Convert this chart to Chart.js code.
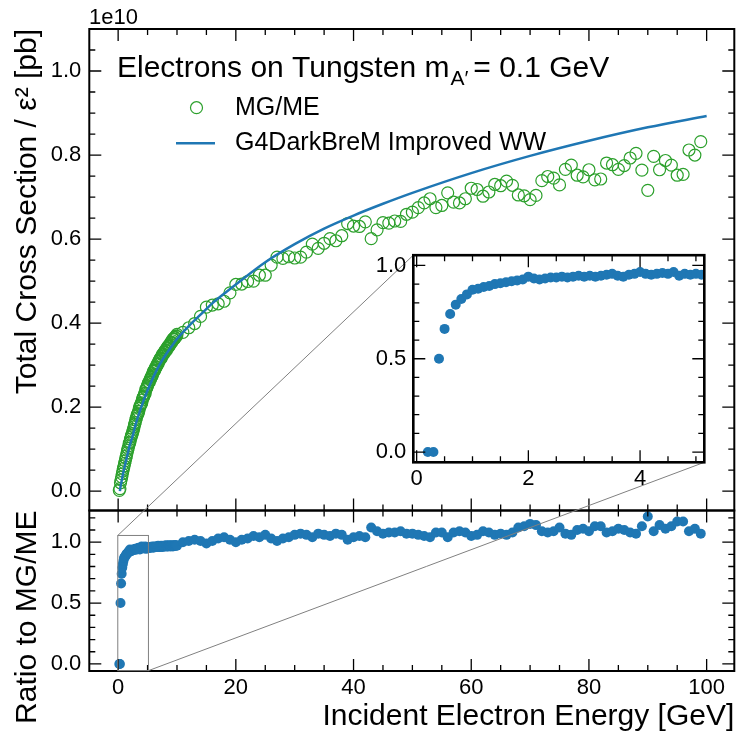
<!DOCTYPE html>
<html>
<head>
<meta charset="utf-8">
<script src="https://cdn.jsdelivr.net/npm/chart.js@4.4.1/dist/chart.umd.min.js"></script>
<style>
  body { margin:0; background:#fff; }
  #wrap { position:relative; width:736px; height:736px; }
  #main { position:absolute; left:0; top:0; }
  #inset { position:absolute; left:340px; top:235px; }
</style>
</head>
<body>
<div id="wrap">
  <canvas id="main" width="736" height="736"></canvas>
  <canvas id="inset" width="380" height="260"></canvas>
</div>
<script>
// incident energies [GeV]: fine steps below 10 GeV, 1 GeV steps above
const energy = [
  0.2,0.3,0.4,0.5,0.6,0.7,0.8,0.9,
  1.0,1.1,1.2,1.3,1.4,1.5,1.6,1.7,1.8,1.9,
  2.0,2.1,2.2,2.3,2.4,2.5,2.6,2.7,2.8,2.9,
  3.0,3.1,3.2,3.3,3.4,3.5,3.6,3.7,3.8,3.9,
  4.0,4.1,4.2,4.3,4.4,4.5,4.6,4.7,4.8,4.9,
  5.0,5.1,5.2,5.3,5.4,5.5,5.6,5.7,5.8,5.9,
  6.0,6.1,6.2,6.3,6.4,6.5,6.6,6.7,6.8,6.9,
  7.0,7.1,7.2,7.3,7.4,7.5,7.6,7.7,7.8,7.9,
  8.0,8.1,8.2,8.3,8.4,8.5,8.6,8.7,8.8,8.9,
  9.0,9.1,9.2,9.3,9.4,9.5,9.6,9.7,9.8,9.9,
  10,11,12,13,14,15,16,17,18,19,
  20,21,22,23,24,25,26,27,28,29,
  30,31,32,33,34,35,36,37,38,39,
  40,41,42,43,44,45,46,47,48,49,
  50,51,52,53,54,55,56,57,58,59,
  60,61,62,63,64,65,66,67,68,69,
  70,71,72,73,74,75,76,77,78,79,
  80,81,82,83,84,85,86,87,88,89,
  90,91,92,93,94,95,96,97,98,99
];

// MG/ME total cross section / eps^2, units of 1e10 pb
const mgme = [
  0.002,0.006,0.020,0.027,0.034,0.041,0.048,0.054,
  0.060,0.066,0.072,0.079,0.084,0.091,0.097,0.102,0.108,0.114,
  0.117,0.124,0.129,0.133,0.137,0.142,0.147,0.153,0.159,0.163,
  0.170,0.174,0.180,0.183,0.186,0.190,0.197,0.202,0.204,0.208,
  0.210,0.217,0.222,0.224,0.227,0.232,0.233,0.242,0.244,0.248,
  0.251,0.256,0.259,0.260,0.265,0.267,0.271,0.273,0.276,0.280,
  0.285,0.286,0.288,0.292,0.295,0.296,0.301,0.303,0.303,0.309,
  0.311,0.315,0.316,0.316,0.320,0.325,0.325,0.326,0.330,0.331,
  0.335,0.335,0.335,0.341,0.341,0.345,0.345,0.346,0.349,0.353,
  0.354,0.354,0.358,0.362,0.362,0.362,0.366,0.365,0.369,0.369,
  0.373,0.378,0.389,0.399,0.416,0.438,0.443,0.446,0.452,0.472,
  0.492,0.493,0.499,0.500,0.514,0.514,0.538,0.557,0.554,0.558,
  0.555,0.557,0.569,0.588,0.578,0.590,0.601,0.596,0.608,0.637,
  0.631,0.630,0.641,0.601,0.622,0.639,0.638,0.643,0.642,0.659,
  0.664,0.675,0.686,0.696,0.675,0.680,0.710,0.688,0.686,0.696,
  0.721,0.718,0.702,0.712,0.730,0.727,0.738,0.728,0.705,0.703,
  0.694,0.704,0.739,0.749,0.745,0.729,0.766,0.776,0.752,0.748,
  0.765,0.741,0.743,0.781,0.777,0.766,0.775,0.793,0.804,0.764,
  0.716,0.797,0.765,0.787,0.776,0.752,0.754,0.812,0.800,0.832
];

// G4DarkBreM / MG-ME at the same energies
const ratio = [
  0.00,0.00,0.50,0.66,0.74,0.79,0.82,0.845,
  0.87,0.875,0.885,0.89,0.90,0.905,0.91,0.915,0.92,0.925,
  0.94,0.93,0.925,0.93,0.935,0.935,0.94,0.935,0.94,0.945,
  0.94,0.945,0.94,0.945,0.95,0.955,0.945,0.94,0.95,0.955,
  0.965,0.955,0.95,0.955,0.96,0.955,0.965,0.945,0.955,0.95,
  0.955,0.95,0.955,0.96,0.955,0.96,0.955,0.96,0.965,0.96,
  0.955,0.96,0.965,0.96,0.96,0.965,0.96,0.965,0.97,0.96,
  0.965,0.96,0.965,0.97,0.965,0.96,0.965,0.97,0.965,0.97,
  0.965,0.97,0.975,0.965,0.97,0.965,0.97,0.975,0.97,0.965,
  0.97,0.975,0.97,0.965,0.97,0.975,0.97,0.975,0.97,0.975,
  0.97,1.00,1.01,1.02,1.01,0.99,1.01,1.03,1.04,1.02,
  1.00,1.02,1.03,1.05,1.04,1.06,1.03,1.01,1.03,1.04,
  1.06,1.07,1.06,1.04,1.07,1.06,1.05,1.07,1.06,1.02,
  1.04,1.05,1.04,1.12,1.09,1.07,1.08,1.08,1.09,1.07,
  1.07,1.06,1.05,1.04,1.08,1.08,1.04,1.08,1.09,1.08,
  1.05,1.06,1.09,1.08,1.06,1.07,1.06,1.08,1.12,1.13,
  1.15,1.14,1.09,1.08,1.09,1.12,1.07,1.06,1.10,1.11,
  1.09,1.13,1.13,1.08,1.09,1.11,1.10,1.08,1.07,1.13,
  1.21,1.09,1.14,1.11,1.13,1.17,1.17,1.09,1.11,1.07
];

// G4DarkBreM improved WW curve
const lineEnergy = [0.3,0.4,0.5,0.6,0.8,1,1.5,2,2.5,3,4,5,6,7,8,9,10,12,14,16,18,20,25,30,35,40,45,50,60,70,80,90,100];
const g4db = [0,0.010,0.018,0.025,0.039,0.052,0.082,0.110,0.133,0.160,0.203,0.240,0.272,0.300,0.323,0.343,0.362,0.393,0.420,0.447,0.470,0.492,0.545,0.588,0.625,0.656,0.684,0.710,0.757,0.798,0.834,0.866,0.893];

// axis ranges
const xRange = [-4.9, 104.7];
const xsecRange = [-0.046, 1.1];
const ratioRange = [-0.058, 1.26];
const zoomX = [-0.06, 5.15];
const zoomY = [-0.055, 1.055];

const FONT = "'Liberation Sans', Arial, Helvetica, sans-serif";
const GREEN = '#2ca02c';
const BLUE = '#1f77b4';

const pts = (xs, ys) => xs.map((x, i) => ({x: x, y: ys[i]}));

// inward ticks on all four sides plus the frame
function frameTicks(ctx, xs, ys, xt, yt, frameWidth) {
  const L = xs.left, R = xs.right, T = ys.top, B = ys.bottom;
  ctx.save();
  ctx.strokeStyle = '#000';
  ctx.lineWidth = 1.3;
  ctx.beginPath();
  [[xt[1], 6], [xt[0], 12]].forEach(([step, len]) => {
    for (let n = Math.ceil(xs.min / step); n * step <= xs.max; n++) {
      const p = xs.getPixelForValue(n * step);
      ctx.moveTo(p, B); ctx.lineTo(p, B - len);
      ctx.moveTo(p, T); ctx.lineTo(p, T + len);
    }
  });
  [[yt[1], 6], [yt[0], 12]].forEach(([step, len]) => {
    for (let n = Math.ceil(ys.min / step); n * step <= ys.max; n++) {
      const p = ys.getPixelForValue(n * step);
      ctx.moveTo(L, p); ctx.lineTo(L + len, p);
      ctx.moveTo(R, p); ctx.lineTo(R - len, p);
    }
  });
  ctx.stroke();
  ctx.lineWidth = frameWidth;
  ctx.strokeRect(L, T, R - L, B - T);
  ctx.restore();
}

function axisOpts(min, max, step, pad, extra) {
  return Object.assign({
    type: 'linear', min: min, max: max,
    grid: {display: false, drawTicks: false},
    border: {display: false},
    ticks: {
      stepSize: step, includeBounds: false, color: '#000', padding: pad,
      font: {family: FONT, size: 22}, maxRotation: 0,
      callback: v => step < 1 ? v.toFixed(1) : String(v)
    }
  }, extra);
}

/* INSET: ratio below 5 GeV */
const insetCanvas = document.getElementById('inset');
const inset = new Chart(insetCanvas, {
  type: 'scatter',
  data: {
    datasets: [{
      data: pts(energy, ratio),
      backgroundColor: BLUE, borderWidth: 0, pointRadius: 5
    }]
  },
  options: {
    responsive: false, animation: false, events: [],
    layout: {autoPadding: false, padding: {left: 0, top: 10, right: 15.7, bottom: 0}},
    plugins: {legend: {display: false}, tooltip: {enabled: false}},
    scales: {
      x: axisOpts(zoomX[0], zoomX[1], 2, 3, {
        afterFit: s => { s.height = 32.7; }
      }),
      y: axisOpts(zoomY[0], zoomY[1], 0.5, 7, {
        afterFit: s => { s.width = 73.3; }
      })
    }
  },
  plugins: [{
    id: 'insetFrame',
    beforeDatasetsDraw(c) {
      const a = c.chartArea;
      c.ctx.fillStyle = '#fff';
      c.ctx.fillRect(a.left, a.top, a.right - a.left, a.bottom - a.top);
    },
    afterDatasetsDraw(c) {
      frameTicks(c.ctx, c.scales.x, c.scales.y, [2, 0.5], [0.5, 0.1], 2.6);
    }
  }]
});

/* MAIN: cross section on top, ratio below */
const overlay = {
  id: 'overlay',
  afterDatasetsDraw(chart) {
    const {ctx, scales: {x, y, y2}} = chart;
    frameTicks(ctx, x, y, [20, 5], [0.2, 0.05], 2);
    frameTicks(ctx, x, y2, [20, 5], [0.5, 0.1], 2);

    // zoomed region and its connectors to the inset
    const bx0 = x.getPixelForValue(zoomX[0]), bx1 = x.getPixelForValue(zoomX[1]);
    const by0 = y2.getPixelForValue(zoomY[1]), by1 = y2.getPixelForValue(zoomY[0]);
    const ia = inset.chartArea;
    const ox = insetCanvas.offsetLeft, oy = insetCanvas.offsetTop;
    ctx.save();
    ctx.strokeStyle = '#808080';
    ctx.lineWidth = 1;
    ctx.strokeRect(bx0, by0, bx1 - bx0, by1 - by0);
    ctx.beginPath();
    ctx.moveTo(bx0, by0); ctx.lineTo(ox + ia.left, oy + ia.top);
    ctx.moveTo(bx1, by1); ctx.lineTo(ox + ia.right, oy + ia.bottom);
    ctx.stroke();
    ctx.restore();

    // legend
    ctx.save();
    ctx.fillStyle = '#000';
    ctx.textBaseline = 'alphabetic';
    ctx.font = `30px ${FONT}`;
    let tx = 117;
    const head = 'Electrons on Tungsten m';
    ctx.fillText(head, tx, 77);
    tx += ctx.measureText(head).width + 1;
    ctx.font = `21px ${FONT}`;
    ctx.fillText('A\u2032', tx, 85);
    tx += ctx.measureText('A\u2032').width + 5;
    ctx.font = `30px ${FONT}`;
    ctx.fillText('= 0.1 GeV', tx, 77);

    ctx.font = `25px ${FONT}`;
    ctx.textBaseline = 'middle';
    ctx.strokeStyle = GREEN;
    ctx.lineWidth = 1.2;
    ctx.beginPath();
    ctx.arc(196.5, 107.7, 6, 0, Math.PI * 2);
    ctx.stroke();
    ctx.fillText('MG/ME', 235, 108);
    ctx.strokeStyle = BLUE;
    ctx.lineWidth = 2.5;
    ctx.beginPath();
    ctx.moveTo(176, 143.3); ctx.lineTo(215, 143.3);
    ctx.stroke();
    ctx.fillText('G4DarkBreM Improved WW', 235, 143);

    // axis multiplier
    ctx.font = `22px ${FONT}`;
    ctx.textBaseline = 'alphabetic';
    ctx.fillText('1e10', 89, 24);
    ctx.restore();
  }
};

const mainChart = new Chart(document.getElementById('main'), {
  type: 'scatter',
  data: {
    datasets: [{
      type: 'line',
      data: pts(lineEnergy, g4db),
      yAxisID: 'y',
      borderColor: BLUE, borderWidth: 2.5,
      pointRadius: 0, fill: false,
      cubicInterpolationMode: 'monotone'
    }, {
      data: pts(energy, mgme),
      yAxisID: 'y',
      backgroundColor: 'rgba(0,0,0,0)',
      borderColor: GREEN, borderWidth: 1.2,
      pointRadius: 6
    }, {
      data: pts(energy, ratio),
      yAxisID: 'y2',
      backgroundColor: BLUE, borderWidth: 0,
      pointRadius: 5
    }]
  },
  options: {
    responsive: false, animation: false, events: [],
    layout: {autoPadding: false, padding: {left: 0, top: 29, right: 1.7, bottom: 0}},
    plugins: {legend: {display: false}, tooltip: {enabled: false}},
    scales: {
      // stacked boxes are laid out bottom-up, so the ratio panel comes first
      y2: axisOpts(ratioRange[0], ratioRange[1], 0.5, 8, {
        position: 'left', stack: 'panels', stackWeight: 1,
        title: {display: true, text: 'Ratio to MG/ME', align: 'end',
                color: '#000', font: {family: FONT, size: 30}, padding: {top: 10, bottom: 0}},
        afterFit: s => { s.width = 89.3; }
      }),
      y: axisOpts(xsecRange[0], xsecRange[1], 0.2, 8, {
        position: 'left', stack: 'panels', stackWeight: 3,
        title: {display: true, text: 'Total Cross Section / \u03b5\u00b2 [pb]', align: 'end',
                color: '#000', font: {family: FONT, size: 30}, padding: {top: 10, bottom: 0}},
        afterFit: s => { s.width = 89.3; }
      }),
      x: axisOpts(xRange[0], xRange[1], 20, 4, {
        position: 'bottom',
        title: {display: true, text: 'Incident Electron Energy [GeV]', align: 'end',
                color: '#000', font: {family: FONT, size: 30}, padding: {top: 0, bottom: 1}},
        afterFit: s => { s.height = 65; }
      })
    }
  },
  plugins: [overlay]
});
</script>
</body>
</html>
